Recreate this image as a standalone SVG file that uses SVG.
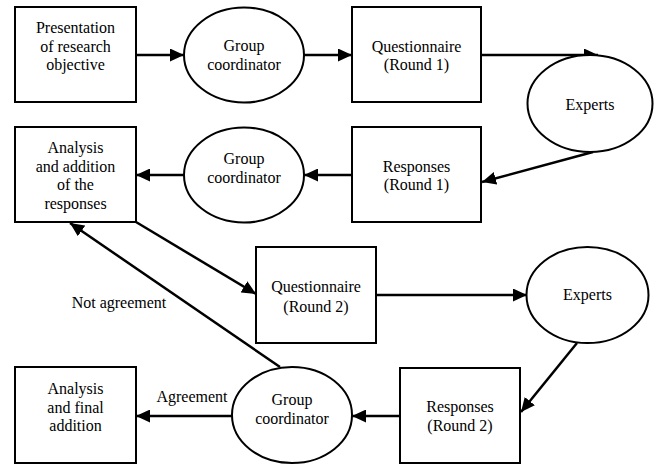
<svg xmlns="http://www.w3.org/2000/svg" width="654" height="464" viewBox="0 0 654 464">
<defs>
<marker id="ah" markerUnits="userSpaceOnUse" markerWidth="15" markerHeight="13" refX="14" refY="6.5" orient="auto">
<path d="M0,0 L14,6.5 L0,13 z" fill="#000"/>
</marker>
<style>
rect, ellipse { fill: #fff; stroke: #000; stroke-width: 2; }
text { font-family: 'Liberation Serif', 'Times New Roman', serif; font-size: 16px; fill: #000; text-anchor: middle; }
.c line { stroke: #000; stroke-width: 2.5; marker-end: url(#ah); }
</style>
</defs>
<rect width="654" height="464" fill="#fff" style="stroke:none"/>
<g class="c" id="connectors">
<line x1="136" y1="55" x2="184" y2="55"/>
<line x1="304" y1="55" x2="352" y2="55"/>
<line x1="481" y1="55" x2="598" y2="55"/>
<line x1="593" y1="152" x2="482" y2="182"/>
<line x1="352" y1="175" x2="304" y2="175"/>
<line x1="184" y1="175" x2="136" y2="175"/>
<line x1="136" y1="222" x2="256" y2="294"/>
<line x1="376" y1="295" x2="527" y2="295"/>
<line x1="577" y1="343" x2="521" y2="412"/>
<line x1="400" y1="416" x2="352" y2="416"/>
<line x1="232" y1="416" x2="136" y2="416"/>
<line x1="280" y1="367" x2="70" y2="223"/>
</g>
<g id="presentation"><rect x="15" y="7" width="121" height="95"/><text x="75.5" y="33">Presentation</text><text x="75.5" y="51.5">of research</text><text x="75.5" y="70">objective</text></g>
<g id="coord1"><ellipse cx="244" cy="55" rx="60" ry="47.5"/><text x="244" y="51">Group</text><text x="244" y="69.5">coordinator</text></g>
<g id="quest1"><rect x="352" y="7" width="129" height="95"/><text x="416.5" y="51.5">Questionnaire</text><text x="416.5" y="70">(Round 1)</text></g>
<g id="experts1"><ellipse cx="590" cy="103.5" rx="62.5" ry="48.5"/><text x="590" y="110">Experts</text></g>
<g id="resp1"><rect x="352" y="127" width="129" height="95"/><text x="416.5" y="171.5">Responses</text><text x="416.5" y="190">(Round 1)</text></g>
<g id="coord2"><ellipse cx="244" cy="175" rx="60" ry="47.5"/><text x="244" y="164">Group</text><text x="244" y="182.5">coordinator</text></g>
<g id="analysis1"><rect x="15" y="127" width="121" height="95"/><text x="75.5" y="153">Analysis</text><text x="75.5" y="171.5">and addition</text><text x="75.5" y="190">of the</text><text x="75.5" y="208.5">responses</text></g>
<g id="quest2"><rect x="256" y="247" width="120" height="96"/><text x="316" y="292">Questionnaire</text><text x="316" y="311.5">(Round 2)</text></g>
<g id="experts2"><ellipse cx="587.5" cy="295" rx="61" ry="48"/><text x="587.5" y="300">Experts</text></g>
<g id="resp2"><rect x="400" y="368" width="120" height="95"/><text x="460" y="412">Responses</text><text x="460" y="430.5">(Round 2)</text></g>
<g id="coord3"><ellipse cx="292" cy="415" rx="60" ry="48"/><text x="292" y="405">Group</text><text x="292" y="424">coordinator</text></g>
<g id="analysis2"><rect x="15" y="367" width="121" height="96"/><text x="75.5" y="394">Analysis</text><text x="75.5" y="412.5">and final</text><text x="75.5" y="431">addition</text></g>
<g id="labels"><text x="192" y="402">Agreement</text><text x="119" y="308">Not agreement</text></g>
</svg>
